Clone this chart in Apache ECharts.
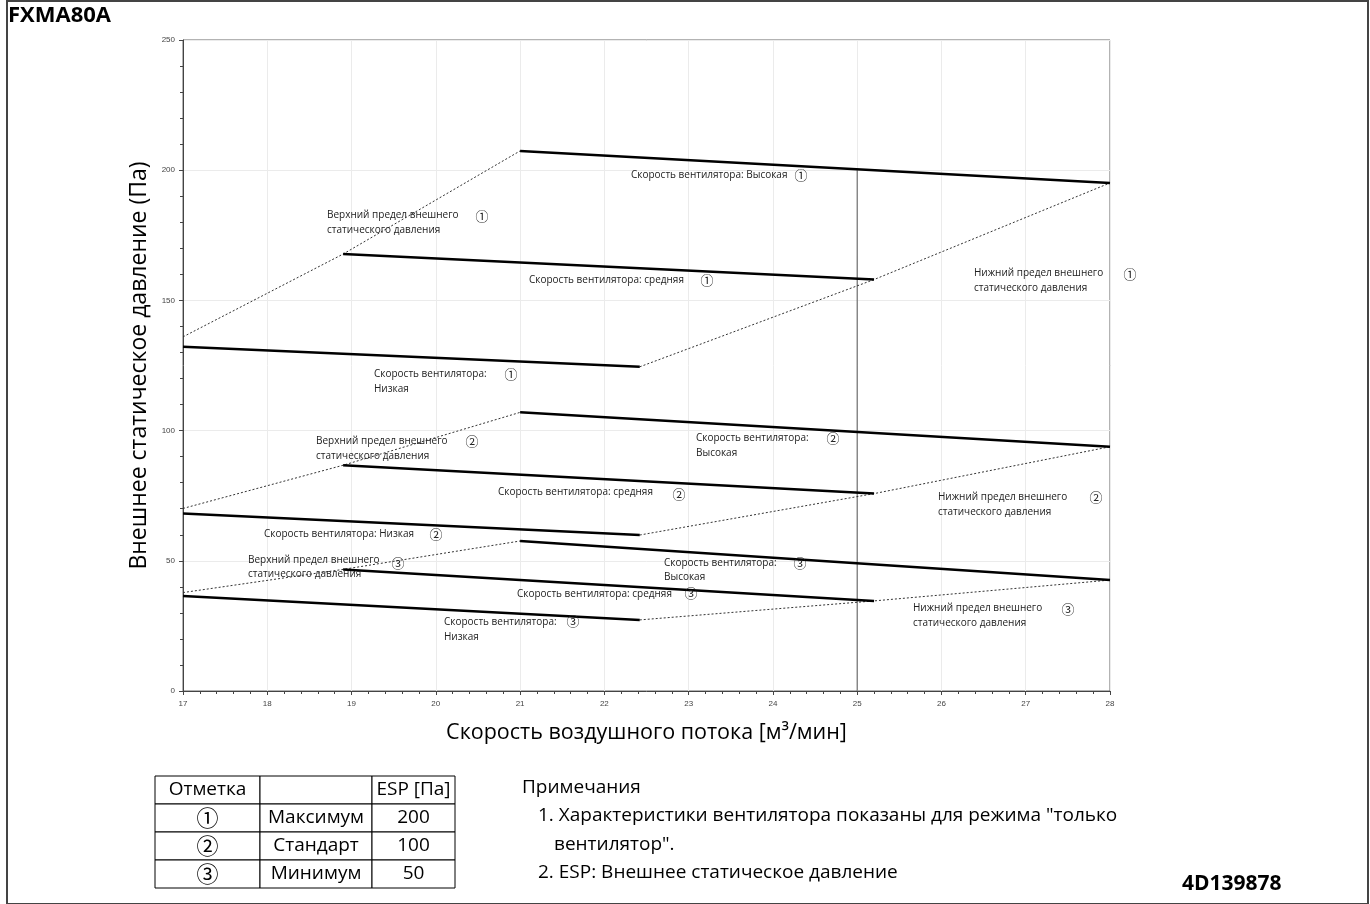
<!DOCTYPE html>
<html><head><meta charset="utf-8">
<script src="https://cdn.jsdelivr.net/npm/echarts@6/dist/echarts.min.js"></script>
<style>html,body{margin:0;padding:0;background:#fff}#c{width:1370px;height:904px}</style>
</head><body><div id="c"></div>
<script>
// ---- data ----
const xTicks = [17,18,19,20,21,22,23,24,25,26,27,28];
const yTicks = [0,50,100,150,200,250];
// set 1 (ESP max)
const high1 = [[21,207.4],[28,195.1]];
const mid1  = [[18.9,167.8],[25.2,158.0]];
const low1  = [[17,132.2],[22.42,124.5]];
const upper1 = [[17,136.0],[18.9,167.8],[21,207.4]];
const lower1 = [[22.42,124.5],[25.2,158.0],[28,195.1]];
// set 2 (ESP standard)
const high2 = [[21,107.0],[28,93.8]];
const mid2  = [[18.9,86.7],[25.2,75.8]];
const low2  = [[17,68.2],[22.42,59.9]];
const upper2 = [[17,70.1],[18.9,86.7],[21,107.0]];
const lower2 = [[22.42,59.9],[25.2,75.8],[28,93.8]];
// set 3 (ESP minimum)
const high3 = [[21,57.6],[28,42.6]];
const mid3  = [[18.9,46.7],[25.2,34.6]];
const low3  = [[17,36.5],[22.42,27.3]];
const upper3 = [[17,37.8],[18.9,46.7],[21,57.6]];
const lower3 = [[22.42,27.3],[25.2,34.6],[28,42.6]];
const ratedLine = [[25,0],[25,200]];

const tableHeader = ['Отметка','','ESP [Па]'];
const tableRows = [['①','Максимум','200'],['②','Стандарт','100'],['③','Минимум','50']];
const notes = ['Примечания','1. Характеристики вентилятора показаны для режима "только','вентилятор".','2. ESP: Внешнее статическое давление'];

// annotation texts: [text, left x px, center y px, align]
const annotations = [
 ['Скорость вентилятора: Высокая',631,175,'left'],['①',801,175,'center'],
 ['Верхний предел внешнего',327,215,'left'],['①',482,216,'center'],['статического давления',327,230,'left'],
 ['Скорость вентилятора: средняя',529,280,'left'],['①',707,280,'center'],
 ['Нижний предел внешнего',974,273,'left'],['①',1130,274,'center'],['статического давления',974,288,'left'],
 ['Скорость вентилятора:',374,374,'left'],['①',511,374,'center'],['Низкая',374,389,'left'],
 ['Верхний предел внешнего',316,441,'left'],['②',472,441,'center'],['статического давления',316,456,'left'],
 ['Скорость вентилятора:',696,438,'left'],['②',833,438,'center'],['Высокая',696,453,'left'],
 ['Скорость вентилятора: средняя',498,492,'left'],['②',679,494,'center'],
 ['Нижний предел внешнего',938,497,'left'],['②',1096,497,'center'],['статического давления',938,512,'left'],
 ['Скорость вентилятора: Низкая',264,534,'left'],['②',436,534,'center'],
 ['Верхний предел внешнего',248,560,'left'],['③',398,563,'center'],['статического давления',248,574,'left'],
 ['Скорость вентилятора:',664,563,'left'],['③',800,563,'center'],['Высокая',664,577,'left'],
 ['Скорость вентилятора: средняя',517,594,'left'],['③',691,593,'center'],
 ['Нижний предел внешнего',913,608,'left'],['③',1068,609,'center'],['статического давления',913,623,'left'],
 ['Скорость вентилятора:',444,622,'left'],['③',573,621,'center'],['Низкая',444,637,'left']
];

const FONT = '"Open Sans", "Noto Sans", sans-serif';
const CJK = '"Noto Sans CJK JP", sans-serif';
const chart = echarts.init(document.getElementById('c'));

function solid(d){return {type:'line',data:d,symbol:'none',lineStyle:{color:'#000',width:2.5},z:5,animation:false};}
function dotted(d){return {type:'line',data:d,symbol:'none',lineStyle:{color:'#333',width:1,type:[2,2]},z:4,animation:false};}

const graphics = [];
graphics.push({type:'rect',shape:{x:7,y:1,width:1361,height:903},style:{fill:'none',stroke:'#444',lineWidth:2},silent:true});
graphics.push({type:'text',left:8,top:5,style:{text:'FXMA80A',font:'bold 22px "Open Sans", "Noto Sans", sans-serif',fill:'#000'}});
graphics.push({type:'text',left:1182,top:874,style:{text:'4D139878',font:'bold 21px "Open Sans", "Noto Sans", sans-serif',fill:'#000'}});
annotations.forEach(a=>{
  const circ = a[0].length===1;
  graphics.push({type:'text',x:a[1],y:a[2],style:{text:a[0],font:circ?('13px '+CJK):('10px '+FONT),fill:'#222',align:a[3],verticalAlign:'middle'},z:10});
});
// table
const colX=[155,260,372,455]; const rowY=[776,804,832,860,888];
for(let r=0;r<4;r++){
  const row = r===0?tableHeader:tableRows[r-1];
  for(let c=0;c<3;c++){
    graphics.push({type:'rect',shape:{x:colX[c],y:rowY[r],width:colX[c+1]-colX[c],height:rowY[r+1]-rowY[r]},style:{fill:'#fff',stroke:'#000',lineWidth:1}});
    if(row[c]){
      const circ=row[c].length===1;
      graphics.push({type:'text',x:(colX[c]+colX[c+1])/2,y:(rowY[r]+rowY[r+1])/2,style:{text:row[c],font:circ?('22px '+CJK):('19px '+FONT),fill:'#000',align:'center',verticalAlign:'middle'}});
    }
  }
}
const noteX=[522,538,554,538]; const noteY=[788,816,845,873];
notes.forEach((t,i)=>graphics.push({type:'text',x:noteX[i],y:noteY[i],style:{text:t,font:'19px '+FONT,fill:'#000',verticalAlign:'middle'}}));

chart.setOption({
  animation:false,
  backgroundColor:'#fff',
  grid:{left:183,right:260,top:40,bottom:213,show:true,borderColor:'#666',borderWidth:1},
  xAxis:{type:'value',min:17,max:28,interval:1,
    name:'Скорость воздушного потока [м³/мин]',nameLocation:'middle',nameGap:31,
    nameTextStyle:{fontSize:21.5,fontFamily:FONT,color:'#000'},
    axisLine:{lineStyle:{color:'#444'}},axisTick:{show:true,length:4,lineStyle:{color:'#444'}},
    minorTick:{show:true,splitNumber:5,length:3,lineStyle:{color:'#444'}},
    axisLabel:{fontSize:8,color:'#444',margin:9,formatter:v=>xTicks.includes(v)?String(v):''},
    splitLine:{show:true,lineStyle:{color:'#ebebeb'}}},
  yAxis:{type:'value',min:0,max:250,interval:50,
    name:'Внешнее статическое давление (Па)',nameLocation:'middle',nameGap:27,
    nameTextStyle:{fontSize:23,fontFamily:FONT,color:'#000'},
    axisLine:{show:true,lineStyle:{color:'#444'}},axisTick:{show:true,length:4,lineStyle:{color:'#444'}},
    minorTick:{show:true,splitNumber:5,length:3,lineStyle:{color:'#444'}},
    axisLabel:{fontSize:8,color:'#444',margin:8,formatter:v=>yTicks.includes(v)?String(v):''},
    splitLine:{show:true,lineStyle:{color:'#ebebeb'}}},
  series:[
    {type:'line',data:ratedLine,symbol:'none',lineStyle:{color:'#555',width:1},z:3,animation:false},
    solid(high1),solid(mid1),solid(low1),dotted(upper1),dotted(lower1),
    solid(high2),solid(mid2),solid(low2),dotted(upper2),dotted(lower2),
    solid(high3),solid(mid3),solid(low3),dotted(upper3),dotted(lower3)
  ],
  graphic:graphics
});
</script></body></html>
